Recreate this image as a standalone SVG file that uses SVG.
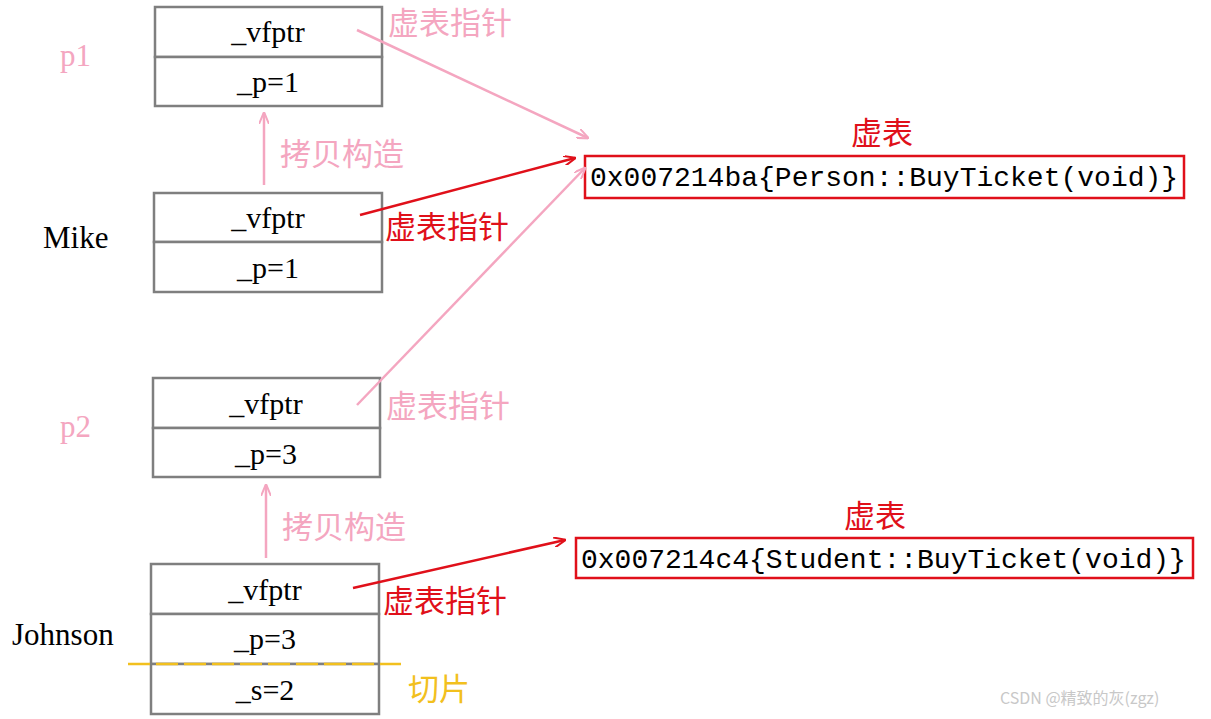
<svg xmlns="http://www.w3.org/2000/svg" width="1211" height="719" viewBox="0 0 1211 719">
<style>
.box{fill:#fff;stroke:#7f7f7f;stroke-width:2.5}
.t{font-family:"Liberation Serif",serif;font-size:30px;fill:#000;text-anchor:middle}
.lb{font-family:"Liberation Serif",serif;font-size:31px}
.pk{fill:#f4a6c0}
.rd{fill:#e0101a}
.cn{font-family:"Noto Sans CJK SC",sans-serif;font-size:31px}
.lp{stroke:#f4a6c0;stroke-width:2.5;fill:none}
.lr{stroke:#e0101a;stroke-width:2.5;fill:none}
.mono{font-family:"Liberation Mono",monospace;font-size:28px;fill:#000}
</style>
<defs>
<marker id="ap" markerWidth="12" markerHeight="10" refX="11" refY="5" orient="auto" markerUnits="userSpaceOnUse"><path d="M0,0 L12,5 L0,10" fill="none" stroke="#f4a6c0" stroke-width="2"/></marker>
<marker id="ar" markerWidth="12" markerHeight="10" refX="11" refY="5" orient="auto" markerUnits="userSpaceOnUse"><path d="M0,0 L12,5 L0,10" fill="none" stroke="#e0101a" stroke-width="2"/></marker>
</defs>
<rect width="1211" height="719" fill="#fff"/>
<g id="p1">
<rect class="box" x="155" y="7" width="227" height="50"/><rect class="box" x="155" y="57" width="227" height="49"/>
<text class="t" x="268" y="42">_vfptr</text><text class="t" x="268" y="92">_p=1</text>
<text x="60" y="66" class="lb pk">p1</text>
</g>
<g id="mike">
<rect class="box" x="154" y="193" width="228" height="49"/><rect class="box" x="154" y="242" width="228" height="50"/>
<text class="t" x="268" y="228">_vfptr</text><text class="t" x="268" y="278">_p=1</text>
<text x="43" y="248" class="lb">Mike</text>
</g>
<g id="p2">
<rect class="box" x="153" y="378" width="227" height="50"/><rect class="box" x="153" y="428" width="227" height="49"/>
<text class="t" x="266" y="414">_vfptr</text><text class="t" x="266" y="464">_p=3</text>
<text x="60" y="437" class="lb pk">p2</text>
</g>
<g id="johnson">
<rect class="box" x="151" y="564" width="228" height="50"/><rect class="box" x="151" y="614" width="228" height="50"/><rect class="box" x="151" y="664" width="228" height="50"/>
<text class="t" x="265" y="600">_vfptr</text><text class="t" x="265" y="649">_p=3</text><text class="t" x="265" y="700">_s=2</text>
<text x="12" y="645" class="lb">Johnson</text>
<line x1="128" y1="664" x2="401" y2="664" stroke="#f2c01e" stroke-width="2.5" stroke-dasharray="22,6"/>
<text x="408" y="700" class="cn" fill="#f2c01e">切片</text>
</g>
<g id="vt1">
<rect x="585" y="156" width="599" height="42" fill="none" stroke="#e0101a" stroke-width="2.5"/>
<text x="590" y="186" class="mono">0x007214ba{Person::BuyTicket(void)}</text>
<text x="882" y="144" class="cn rd" text-anchor="middle">虚表</text>
</g>
<g id="vt2">
<rect x="576" y="538" width="617" height="40" fill="none" stroke="#e0101a" stroke-width="2.5"/>
<text x="581" y="568" class="mono">0x007214c4{Student::BuyTicket(void)}</text>
<text x="875" y="527" class="cn rd" text-anchor="middle">虚表</text>
</g>
<g id="connectors">
<line class="lp" x1="357" y1="30" x2="588" y2="138" marker-end="url(#ap)"/>
<line class="lr" x1="360" y1="215" x2="575" y2="158" marker-end="url(#ar)"/>
<line class="lp" x1="357" y1="405" x2="585" y2="168" marker-end="url(#ap)"/>
<line class="lr" x1="353" y1="588" x2="565" y2="540" marker-end="url(#ar)"/>
<line class="lp" x1="264" y1="185" x2="264" y2="113" marker-end="url(#ap)"/>
<line class="lp" x1="266" y1="558" x2="266" y2="485" marker-end="url(#ap)"/>
<text x="388" y="34" class="cn pk">虚表指针</text>
<text x="385" y="238" class="cn rd">虚表指针</text>
<text x="386" y="417" class="cn pk">虚表指针</text>
<text x="383" y="612" class="cn rd">虚表指针</text>
<text x="280" y="165" class="cn pk">拷贝构造</text>
<text x="282" y="538" class="cn pk">拷贝构造</text>
</g>
<text x="1000" y="704" font-family="Noto Sans CJK SC,sans-serif" font-size="16" fill="#c8c8c8">CSDN @精致的灰(zgz)</text>
</svg>
